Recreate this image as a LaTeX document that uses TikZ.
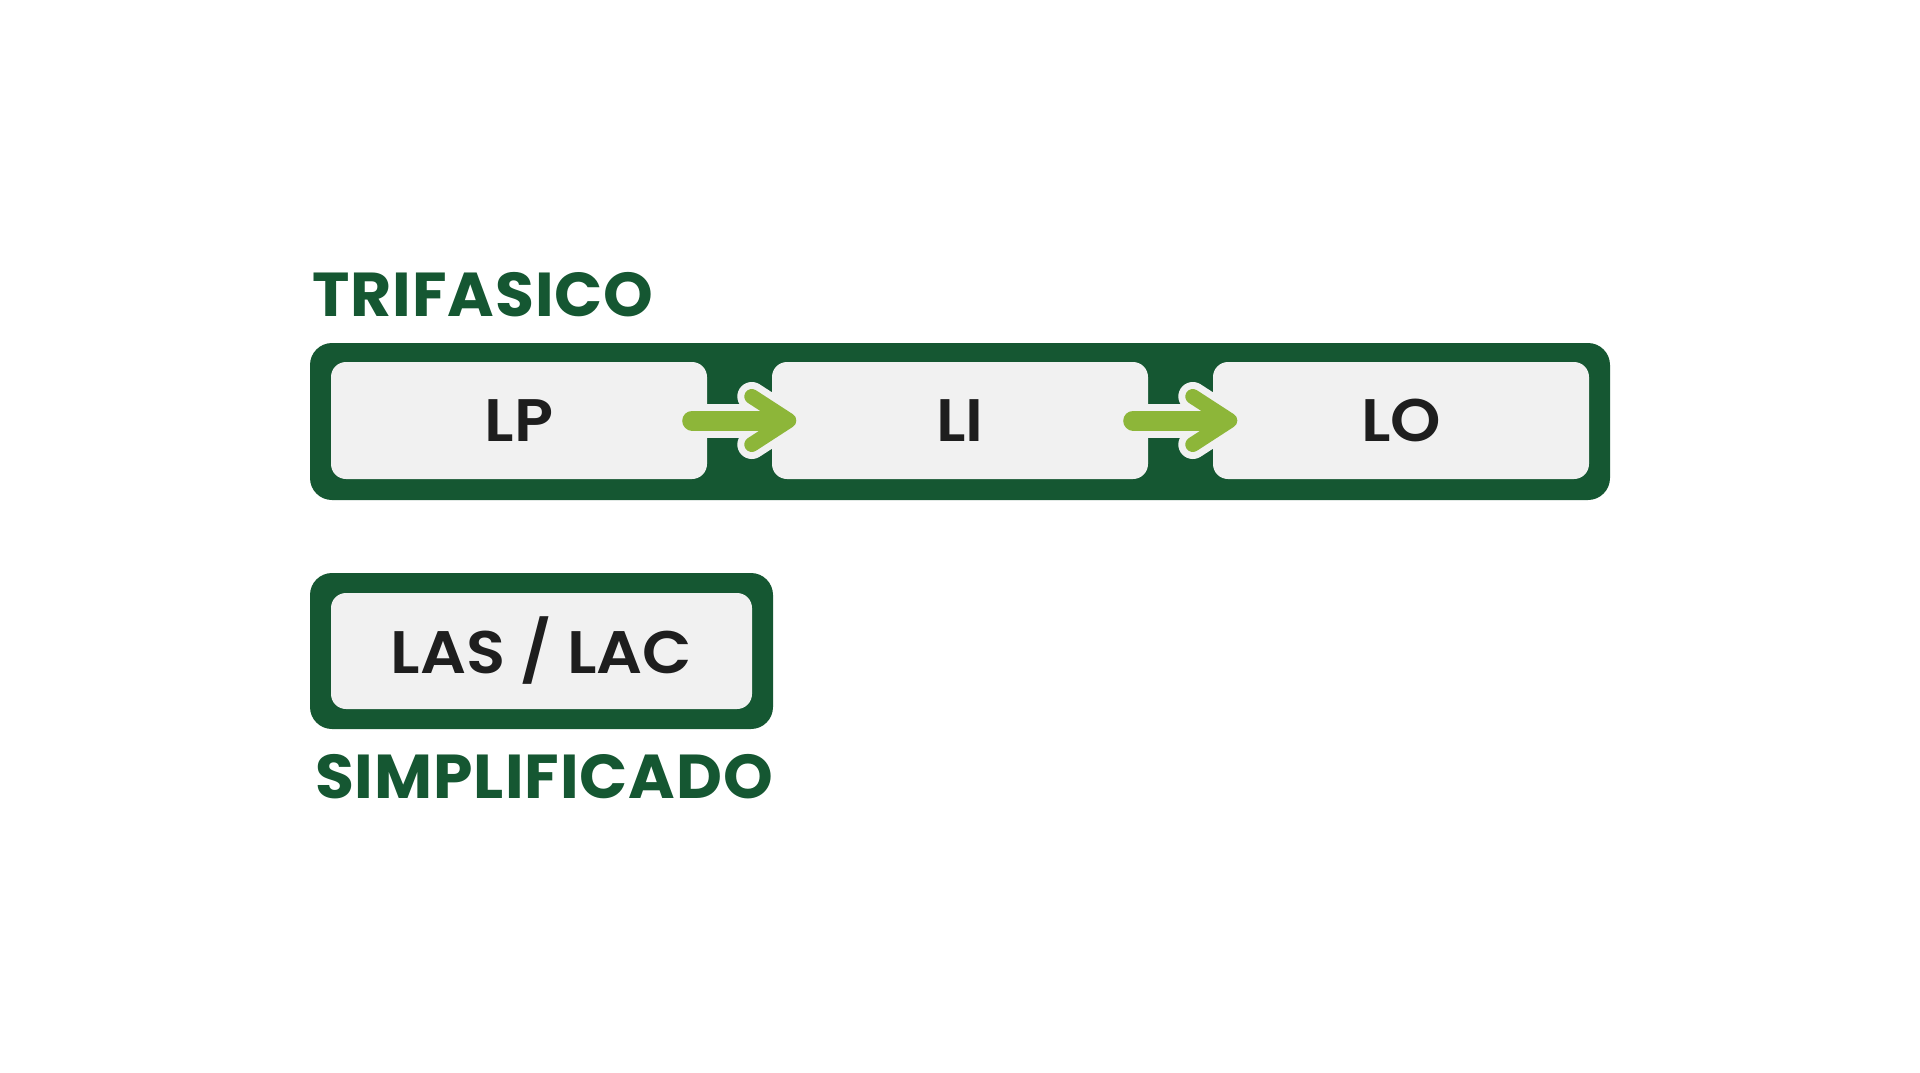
\documentclass[tikz,border=0pt]{standalone}
\usepackage{fontspec}
\setmainfont{Poppins}
\newfontfamily\labelfont{Poppins SemiBold}[FakeStretch=1.07]
\newfontfamily\titlefont{Poppins Bold}[FakeStretch=1.02, LetterSpace=1.5]
\usetikzlibrary{calc}
\definecolor{dkgreen}{RGB}{21,87,50}
\definecolor{boxgrey}{RGB}{241,241,241}
\definecolor{argreen}{RGB}{141,182,57}
\definecolor{txt}{RGB}{30,30,30}
\tikzset{
  outerbox/.style={draw=none, fill=dkgreen, rounded corners=22pt, inner sep=0pt},
  stagebox/.style={draw=none, fill=boxgrey, rounded corners=15pt, inner sep=0pt,
     minimum width=376pt, minimum height=117pt, font=\fontsize{60}{60}\labelfont, text=txt},
  titletext/.style={anchor=base west, inner sep=0pt, text=dkgreen, font=\fontsize{62}{62}\titlefont},
  arrowout/.style={draw=boxgrey, line cap=round, line join=round},
  arrowin/.style={draw=argreen, line cap=round, line join=round},
}
\newcommand{\flowarrow}[2]{%
  \coordinate (s) at ([xshift=-15pt]#1.east);
  \coordinate (t) at ([xshift=17pt]#2.west);
  \draw[arrowout, line width=34pt] (s) -- ([xshift=-10pt]t);
  \draw[arrowout, line width=29pt] ([shift={(-37pt,24pt)}]t) -- (t) -- ([shift={(-37pt,-24pt)}]t);
  \draw[arrowin, line width=20pt] (s) -- ([xshift=-10pt]t);
  \draw[arrowin, line width=15pt] ([shift={(-37pt,24pt)}]t) -- (t) -- ([shift={(-37pt,-24pt)}]t);
}
\begin{document}
\begin{tikzpicture}[x=1pt,y=-1pt]
\useasboundingbox[fill=white] (0,0) rectangle (1920,1072);
% title
\node[titletext] (tri) at (312,316) {TRIFASICO};
% outer band
\node[outerbox, minimum width=1300pt, minimum height=157pt] (band) at (960,421.5) {};
\node[stagebox] (lp) at (519,420.5) {LP};
\node[stagebox] (li) at (960,420.5) {LI};
\node[stagebox] (lo) at (1401,420.5) {LO};
\flowarrow{lp}{li}
\flowarrow{li}{lo}
% simplified
\node[outerbox, minimum width=463pt, minimum height=156pt] (simpband) at (541.5,651) {};
\node[stagebox, minimum width=421pt, minimum height=116pt] (las) at (541.5,651) {LAS / LAC};
\node[titletext] (simp) at (315,798) {SIMPLIFICADO};
\end{tikzpicture}
\end{document}
